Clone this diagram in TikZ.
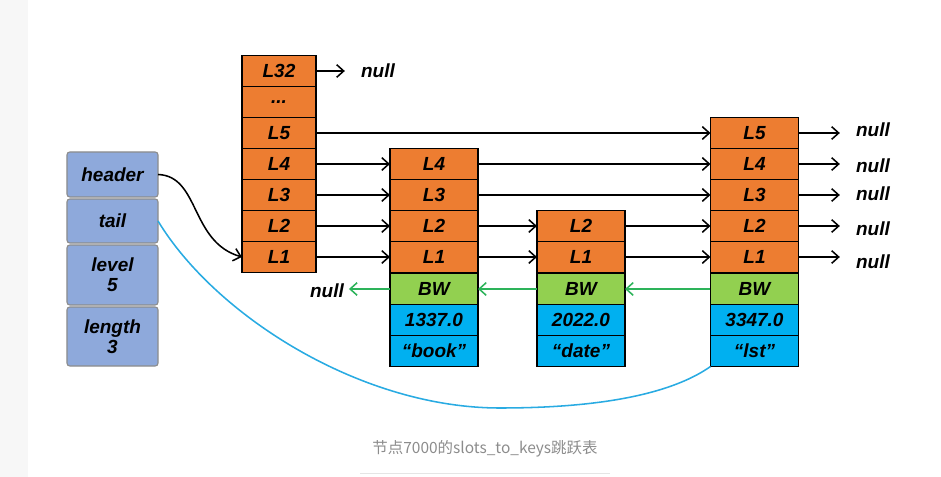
\documentclass[tikz,border=0pt]{standalone}
\usepackage{fontspec}
\setmainfont{Liberation Sans}
\newfontfamily\cjk{Noto Sans CJK SC}
\usetikzlibrary{arrows.meta}

\definecolor{lvlorange}{HTML}{ED7D31}
\definecolor{bwgreen}{HTML}{92D050}
\definecolor{valblue}{HTML}{00B0F0}
\definecolor{structblue}{HTML}{8EA9DB}
\definecolor{bwarrow}{HTML}{2DB35A}
\definecolor{tailblue}{HTML}{29ABE2}

\tikzset{
  txt/.style={font=\bfseries\itshape\fontsize{13.5}{14}\selectfont},
  cell/.style={txt, draw, line width=1.3pt, minimum width=2.2cm, minimum height=0.775cm, inner sep=0pt, outer sep=0pt},
  lvl/.style={cell, fill=lvlorange},
  bw/.style={cell, fill=bwgreen},
  val/.style={cell, fill=valblue},
  field/.style={txt, align=center, draw=black!45, line width=0.8pt, rounded corners=2pt, fill=structblue, minimum width=2.275cm, inner sep=0pt, outer sep=0pt},
  nullnode/.style={txt, inner sep=0pt},
  ptr/.style={-{Straight Barb[length=5pt,width=9pt]}, line width=1.1pt, shorten >=0.4cm},
  nxt/.style={-{Straight Barb[length=5pt,width=9pt]}, line width=1.1pt},
  back/.style={-{Straight Barb[length=5pt,width=9pt]}, line width=1.1pt, bwarrow}
}

\begin{document}
\begin{tikzpicture}[x=0.025cm, y=-0.025cm]
  \useasboundingbox (0,0) rectangle (941,477);
  \fill[black!3] (0,0) rectangle (28,477);

  % zskiplist
  \node[field, minimum height=1.125cm] (header) at (112.5,174.5) {header};
  \node[field, minimum height=1.1cm] (tail) at (112.5,221) {tail};
  \node[field, minimum height=1.5cm] (level) at (112.5,275) {level\\5};
  \node[field, minimum height=1.475cm] (length) at (112.5,336.5) {length\\3};

  % header levels
  \node[lvl, minimum width=1.85cm] (h32) at (279,71) {L32};
  \node[lvl, minimum width=1.85cm] (hdots) at (279,102) {...};
  \foreach \i in {1,...,5}
    \node[lvl, minimum width=1.85cm] (h\i) at (279,{257-31*(\i-1)}) {L\i};

  % "book"
  \foreach \i in {1,...,4}
    \node[lvl] (b\i) at (434,{257-31*(\i-1)}) {L\i};
  \node[bw] (bbw) at (434,289) {BW};
  \node[val] (bscore) at (434,320) {1337.0};
  \node[val] (bobj) at (434,351) {“book”};

  % "date"
  \foreach \i in {1,2}
    \node[lvl] (d\i) at (581,{257-31*(\i-1)}) {L\i};
  \node[bw] (dbw) at (581,289) {BW};
  \node[val] (dscore) at (581,320) {2022.0};
  \node[val] (dobj) at (581,351) {“date”};

  % "lst"
  \foreach \i in {1,...,5}
    \node[lvl] (t\i) at (754.5,{257-31*(\i-1)}) {L\i};
  \node[bw] (tbw) at (754.5,289) {BW};
  \node[val] (tscore) at (754.5,320) {3347.0};
  \node[val] (tobj) at (754.5,351) {“lst”};

  % null
  \node[nullnode] (n32) at (378,71) {null};
  \node[nullnode] (nbw) at (327,291) {null};
  \node[nullnode] (n5) at (873,130) {null};
  \node[nullnode] (n4) at (873,166) {null};
  \node[nullnode] (n3) at (873,194) {null};
  \node[nullnode] (n2) at (873,229) {null};
  \node[nullnode] (n1) at (873,262) {null};

  % forward pointers
  \draw[ptr] (h32.east) -- (h32.east -| n32.west);
  \foreach \i in {1,...,5}
    \draw[ptr] (t\i.east) -- (t\i.east -| n\i.west);
  \draw[nxt] (h5.east) -- (t5.west);
  \draw[nxt] (h4.east) -- (b4.west);
  \draw[nxt] (b4.east) -- (t4.west);
  \draw[nxt] (h3.east) -- (b3.west);
  \draw[nxt] (b3.east) -- (t3.west);
  \foreach \i in {1,2} {
    \draw[nxt] (h\i.east) -- (b\i.west);
    \draw[nxt] (b\i.east) -- (d\i.west);
    \draw[nxt] (d\i.east) -- (t\i.west);
  }

  % backward pointers
  \draw[back] (tbw.west) -- (dbw.east);
  \draw[back] (dbw.west) -- (bbw.east);
  \draw[back, shorten >=0.12cm] (bbw.west) -- (bbw.west -| nbw.east);

  % header / tail
  \draw[nxt] (header.east) .. controls (200,176) and (190,242) .. (h1.west);
  \draw[tailblue, line width=1.1pt] (tail.east) .. controls (215,315) and (360,408) .. (500,408)
    .. controls (620,408) and (680,388) .. (tobj.south west);

  % caption
  \node[text=black!45, font=\cjk\fontsize{11}{13}\selectfont] (caption) at (485,449) {节点7000的slots\_to\_keys跳跃表};
  \draw[black!10] (360,473) -- (610,473);
\end{tikzpicture}
\end{document}
